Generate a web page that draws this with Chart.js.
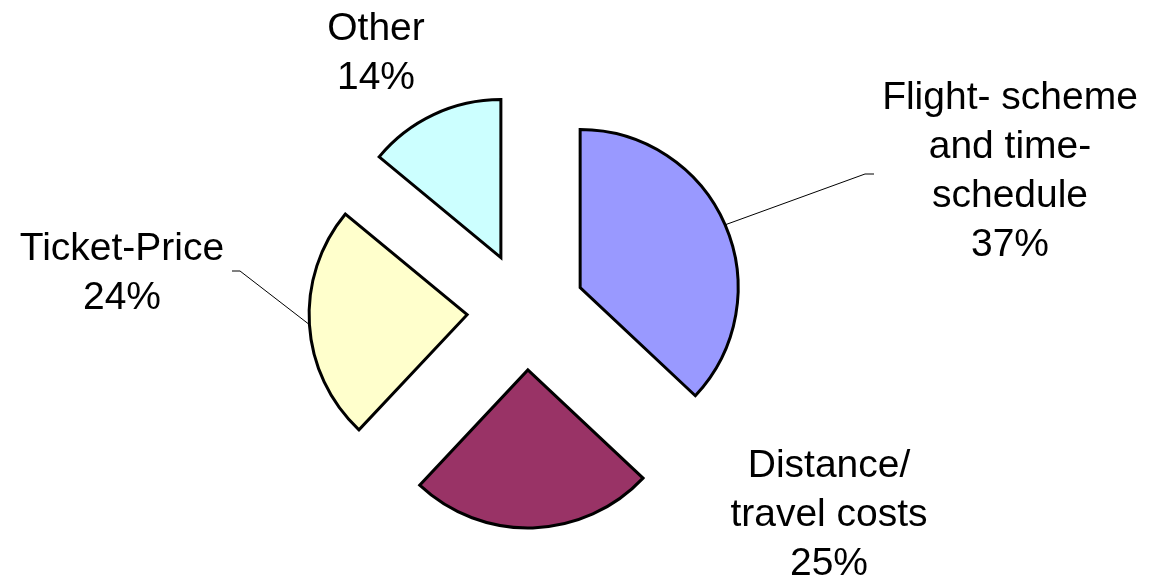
<!DOCTYPE html>
<html>
<head>
<meta charset="utf-8">
<script src="https://cdn.jsdelivr.net/npm/chart.js@4/dist/chart.umd.min.js"></script>
<style>
  html, body { margin: 0; background: #fff; }
  #wrap { width: 1152px; height: 583px; }
</style>
</head>
<body>
<div id="wrap"><canvas id="chart"></canvas></div>
<script>
const categories = [["Flight- scheme", "and time-", "schedule"], ["Distance/", "travel costs"], ["Ticket-Price"], ["Other"]];
const shares = [37, 25, 24, 14];
const sliceColors = ["#9999FF", "#993366", "#FFFFCC", "#CCFFFF"];

const EXPLODE = 59;
const FONT = '39px "Liberation Sans", Arial, sans-serif';
const LINE = 49;

// label spot relative to the pie centre (first baseline); elbow = [x, y, stubEndX] of the leader line
const labelSpots = [
  { dx: 484, dy: -202, elbow: [339, -137, 348] },
  { dx: 303, dy: 166 },
  { dx: -404, dy: -51, elbow: [-286, -40, -294] },
  { dx: -150, dy: -271 },
];

// draw each slice pushed out along its middle angle
const explodedPie = {
  id: "explodedPie",
  beforeDatasetDraw(chart, args) {
    const ctx = chart.ctx;
    args.meta.data.forEach((arc) => {
      const mid = (arc.startAngle + arc.endAngle) / 2;
      ctx.save();
      ctx.translate(Math.cos(mid) * EXPLODE, Math.sin(mid) * EXPLODE);
      arc.draw(ctx);
      ctx.restore();
    });
    return false;
  },
};

const sliceLabels = {
  id: "sliceLabels",
  afterDatasetsDraw(chart) {
    const ctx = chart.ctx;
    const arcs = chart.getDatasetMeta(0).data;
    ctx.save();
    ctx.font = FONT;
    ctx.fillStyle = "#000";
    ctx.textAlign = "center";
    ctx.textBaseline = "alphabetic";
    arcs.forEach((arc, i) => {
      const spot = labelSpots[i];
      const cx = arc.x, cy = arc.y;
      const lines = categories[i].concat(shares[i] + "%");
      lines.forEach((t, j) => ctx.fillText(t, cx + spot.dx, cy + spot.dy + j * LINE));
      if (spot.elbow) {
        const mid = (arc.startAngle + arc.endAngle) / 2;
        const r = EXPLODE + arc.outerRadius;
        ctx.beginPath();
        ctx.moveTo(cx + Math.cos(mid) * r, cy + Math.sin(mid) * r);
        ctx.lineTo(cx + spot.elbow[0], cy + spot.elbow[1]);
        ctx.lineTo(cx + spot.elbow[2], cy + spot.elbow[1]);
        ctx.strokeStyle = "#000";
        ctx.lineWidth = 1;
        ctx.stroke();
      }
    });
    ctx.restore();
  },
};

new Chart(document.getElementById("chart"), {
  type: "pie",
  data: {
    labels: categories.map((c) => c.join(" ")),
    datasets: [
      {
        data: shares,
        backgroundColor: sliceColors,
        borderColor: "#000",
        borderWidth: 3,
        borderJoinStyle: "miter",
      },
    ],
  },
  options: {
    responsive: true,
    maintainAspectRatio: false,
    animation: false,
    radius: 158,
    layout: { padding: { left: 0, right: 100, top: 39, bottom: 0 } },
    plugins: {
      legend: { display: false },
      tooltip: { enabled: false },
    },
  },
  plugins: [explodedPie, sliceLabels],
});
</script>
</body>
</html>
